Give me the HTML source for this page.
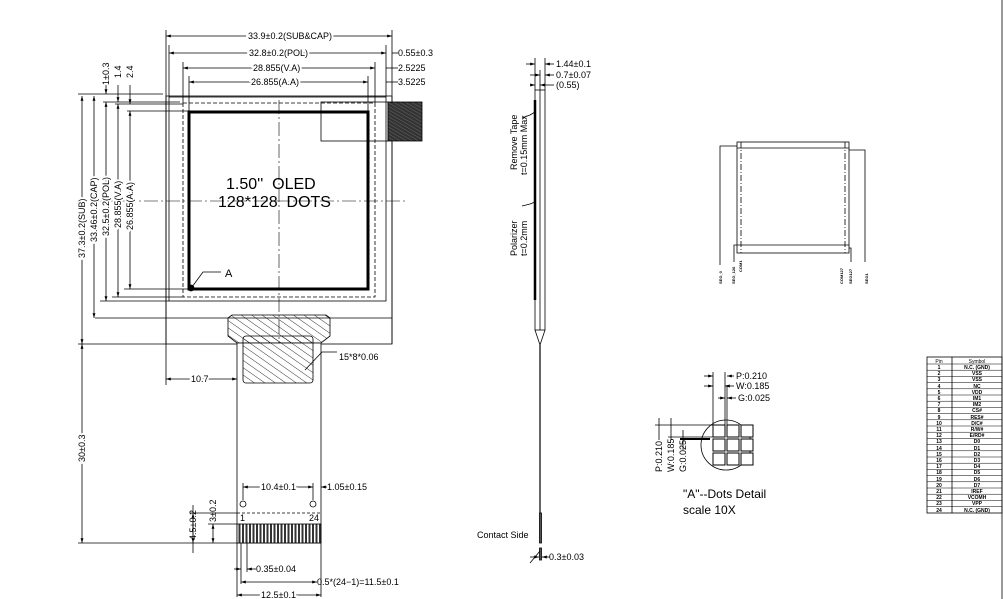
<!DOCTYPE html>
<html><head><meta charset="utf-8"><style>
html,body{margin:0;padding:0;background:#fff;}
svg{display:block;}
text{font-family:"Liberation Sans",sans-serif;fill:#000;}
</style></head><body>
<svg width="1003" height="599" viewBox="0 0 1003 599" xmlns="http://www.w3.org/2000/svg">
<defs>
<marker id="a" viewBox="0 0 10 10" refX="10" refY="5" markerWidth="6" markerHeight="6" orient="auto-start-reverse"><path d="M0,2 L10,5 L0,8 z" fill="#000"/></marker>
<pattern id="h" width="6" height="6" patternUnits="userSpaceOnUse" patternTransform="rotate(-55)"><line x1="0" y1="0" x2="0" y2="6" stroke="#000" stroke-width="0.8"/></pattern>
<pattern id="hd" width="3" height="3" patternUnits="userSpaceOnUse" patternTransform="rotate(-60)"><rect width="3" height="3" fill="#333"/><line x1="0" y1="0" x2="0" y2="3" stroke="#999" stroke-width="0.5"/></pattern>
<pattern id="pins" width="3.5" height="20" patternUnits="userSpaceOnUse" x="238"><rect width="3.5" height="20" fill="#fff"/><rect x="0.5" width="2" height="20" fill="#333"/></pattern>
</defs>
<g stroke="#000" fill="none" stroke-width="0.8">
<line x1="166" y1="30" x2="166" y2="385"/>
<line x1="392" y1="30" x2="392" y2="344"/>
<rect x="166" y="96" width="226" height="248"/>
<rect x="169" y="97" width="217" height="204"/>
<rect x="183" y="103" width="192" height="194" stroke-dasharray="4,2"/>
<rect x="189" y="112" width="179" height="177" stroke-width="3"/>
<rect x="321" y="102" width="67" height="39"/>
<rect x="388" y="102" width="34" height="39" fill="url(#hd)"/>
<line x1="95" y1="318" x2="392" y2="318"/>
<line x1="279" y1="100" x2="279" y2="395" stroke-dasharray="14,3,2,3" stroke-width="0.6"/>
<line x1="100" y1="201" x2="405" y2="201" stroke-dasharray="14,3,2,3" stroke-width="0.6"/>
<circle cx="191" cy="288" r="3" fill="#000"/>
<polyline points="192,287 203,272 221,272"/>
<line x1="166" y1="36" x2="392" y2="36" marker-start="url(#a)" marker-end="url(#a)"/>
<line x1="169" y1="53" x2="386" y2="53" marker-start="url(#a)" marker-end="url(#a)"/>
<line x1="169" y1="45" x2="169" y2="97"/><line x1="386" y1="45" x2="386" y2="97"/>
<line x1="392" y1="53" x2="398" y2="53"/>
<line x1="183" y1="68" x2="375" y2="68" marker-start="url(#a)" marker-end="url(#a)"/>
<line x1="183" y1="62" x2="183" y2="103"/><line x1="375" y1="62" x2="375" y2="103"/>
<line x1="386" y1="68" x2="398" y2="68"/>
<line x1="189" y1="82" x2="368" y2="82" marker-start="url(#a)" marker-end="url(#a)"/>
<line x1="189" y1="76" x2="189" y2="112"/><line x1="368" y1="76" x2="368" y2="112"/>
<line x1="386" y1="82" x2="398" y2="82"/>
<line x1="78" y1="94" x2="163" y2="94"/>
<line x1="103" y1="102" x2="180" y2="102"/>
<line x1="115" y1="104" x2="183" y2="104"/>
<line x1="127" y1="111" x2="189" y2="111"/>
<line x1="100" y1="301" x2="169" y2="301"/>
<line x1="112" y1="297" x2="183" y2="297"/>
<line x1="124" y1="289" x2="189" y2="289"/>
<line x1="78" y1="344" x2="166" y2="344"/>
<line x1="82" y1="96" x2="82" y2="344" marker-start="url(#a)" marker-end="url(#a)"/>
<line x1="94" y1="96" x2="94" y2="318" marker-start="url(#a)" marker-end="url(#a)"/>
<line x1="106" y1="102" x2="106" y2="301" marker-start="url(#a)" marker-end="url(#a)"/>
<line x1="118" y1="104" x2="118" y2="297" marker-start="url(#a)" marker-end="url(#a)"/>
<line x1="130" y1="111" x2="130" y2="289" marker-start="url(#a)" marker-end="url(#a)"/>
<line x1="106" y1="85" x2="106" y2="94" marker-end="url(#a)"/>
<line x1="118" y1="85" x2="118" y2="102" marker-end="url(#a)"/>
<line x1="130" y1="85" x2="130" y2="104" marker-end="url(#a)"/>
<path d="M228,318 L232,315 L326,315 L330,318 L330,336 L321,343 L237,343 L228,336 Z" fill="url(#h)"/>
<rect x="237" y="343" width="84" height="200" fill="#fff"/>
<rect x="243" y="336" width="70" height="47" rx="3" fill="url(#h)"/>
<polyline points="305,370 322,352 337,352"/>
<line x1="166" y1="379" x2="237" y2="379" marker-start="url(#a)" marker-end="url(#a)"/>
<line x1="82" y1="344" x2="82" y2="543" marker-start="url(#a)" marker-end="url(#a)"/>
<line x1="78" y1="543" x2="237" y2="543"/>
<line x1="243" y1="487" x2="313" y2="487" marker-start="url(#a)" marker-end="url(#a)"/>
<line x1="243" y1="483" x2="243" y2="500"/><line x1="313" y1="483" x2="313" y2="500"/>
<line x1="327" y1="487" x2="321" y2="487" marker-end="url(#a)"/>
<circle cx="243" cy="504" r="3"/><circle cx="313" cy="504" r="3"/>
<line x1="237" y1="513" x2="321" y2="513" stroke-dasharray="3,2"/>
<rect x="237" y="524" width="84" height="19" fill="url(#pins)"/>
<line x1="190" y1="513" x2="237" y2="513"/>
<line x1="208" y1="524" x2="237" y2="524"/>
<line x1="193" y1="505" x2="193" y2="553" /><line x1="193" y1="513" x2="193" y2="543" marker-start="url(#a)" marker-end="url(#a)"/>
<line x1="213" y1="524" x2="213" y2="543" marker-start="url(#a)" marker-end="url(#a)"/>
<line x1="237" y1="543" x2="237" y2="597"/><line x1="321" y1="543" x2="321" y2="597"/>
<line x1="241" y1="543" x2="241" y2="584"/><line x1="247" y1="543" x2="247" y2="572"/>
<line x1="234" y1="569" x2="241" y2="569" marker-end="url(#a)"/><line x1="256" y1="569" x2="247" y2="569" marker-end="url(#a)"/>
<line x1="241" y1="582" x2="317" y2="582" marker-start="url(#a)" marker-end="url(#a)"/>
<line x1="237" y1="595" x2="321" y2="595" marker-start="url(#a)" marker-end="url(#a)"/>
<rect x="535" y="90" width="10" height="240"/>
<line x1="540" y1="90" x2="540" y2="330"/>
<line x1="535" y1="100" x2="535" y2="300" stroke-width="2.5"/>
<path d="M535,330 L540,345 L545,330"/>
<line x1="540" y1="345" x2="540" y2="513" stroke-width="1.2"/>
<rect x="539.5" y="513" width="2" height="30" fill="#555"/>
<rect x="539.5" y="548" width="2" height="12" fill="#555"/>
<line x1="535" y1="58" x2="535" y2="90"/><line x1="545" y1="58" x2="545" y2="90"/><line x1="540" y1="70" x2="540" y2="90"/>
<line x1="526" y1="64" x2="535" y2="64" marker-end="url(#a)"/><line x1="554" y1="64" x2="545" y2="64" marker-end="url(#a)"/>
<line x1="530" y1="75" x2="540" y2="75" marker-end="url(#a)"/><line x1="554" y1="75" x2="545" y2="75" marker-end="url(#a)"/>
<line x1="530" y1="85" x2="535" y2="85" marker-end="url(#a)"/><line x1="554" y1="85" x2="540" y2="85" marker-end="url(#a)"/>
<polyline points="522,118 530,115 535,112"/>
<polyline points="522,206 530,204 535,202"/>
<polyline points="530,563 540,551"/>
<line x1="530" y1="557" x2="539" y2="557" marker-end="url(#a)"/><line x1="550" y1="557" x2="542" y2="557" marker-end="url(#a)"/>
<circle cx="726" cy="445" r="25"/>
<g fill="#fff" stroke-width="1">
<rect x="713" y="425" width="12" height="12"/><rect x="727" y="425" width="12" height="12"/><rect x="741" y="425" width="12" height="12"/>
<rect x="713" y="439" width="12" height="12"/><rect x="727" y="439" width="12" height="12"/><rect x="741" y="439" width="12" height="12"/>
<rect x="713" y="453" width="12" height="12"/><rect x="727" y="453" width="12" height="12"/><rect x="741" y="453" width="12" height="12"/>
</g>
<line x1="713" y1="372" x2="713" y2="425"/><line x1="725" y1="372" x2="725" y2="425"/><line x1="727" y1="385" x2="727" y2="425"/>
<line x1="704" y1="376" x2="713" y2="376" marker-end="url(#a)"/><line x1="734" y1="376" x2="727" y2="376" marker-end="url(#a)"/>
<line x1="704" y1="386" x2="713" y2="386" marker-end="url(#a)"/><line x1="734" y1="386" x2="725" y2="386" marker-end="url(#a)"/>
<line x1="718" y1="398" x2="725" y2="398" marker-end="url(#a)"/><line x1="736" y1="398" x2="727" y2="398" marker-end="url(#a)"/>
<line x1="655" y1="425" x2="713" y2="425"/><line x1="668" y1="437" x2="713" y2="437"/><line x1="680" y1="439" x2="710" y2="439" stroke-width="2"/>
<line x1="659" y1="418" x2="659" y2="440"/><line x1="671" y1="418" x2="671" y2="440"/>
<line x1="683" y1="430" x2="683" y2="450"/>
<rect x="737" y="142" width="112" height="111"/>
<line x1="737" y1="148" x2="849" y2="148"/>
<line x1="737" y1="245" x2="849" y2="245"/>
<line x1="741" y1="142" x2="741" y2="253" stroke-dasharray="6,2,1,2"/>
<line x1="845" y1="142" x2="845" y2="253" stroke-dasharray="6,2,1,2"/>
<polyline points="720,265 720,146 737,146"/>
<polyline points="865,262 865,150 849,150"/>
<polyline points="734,262 734,245 737,245"/>
<polyline points="851,262 851,248 849,248"/>
<line x1="1002" y1="0" x2="1002" y2="599"/>
<rect x="927" y="357" width="75" height="156"/>
<line x1="952" y1="357" x2="952" y2="513"/>
</g>
<g stroke="#000" stroke-width="0.5">
<line x1="927" y1="364" x2="1002" y2="364"/>
<line x1="927" y1="370.2" x2="1002" y2="370.2"/><line x1="927" y1="376.4" x2="1002" y2="376.4"/><line x1="927" y1="382.6" x2="1002" y2="382.6"/><line x1="927" y1="388.8" x2="1002" y2="388.8"/><line x1="927" y1="395" x2="1002" y2="395"/><line x1="927" y1="401.2" x2="1002" y2="401.2"/><line x1="927" y1="407.4" x2="1002" y2="407.4"/><line x1="927" y1="413.6" x2="1002" y2="413.6"/><line x1="927" y1="419.8" x2="1002" y2="419.8"/><line x1="927" y1="426" x2="1002" y2="426"/><line x1="927" y1="432.2" x2="1002" y2="432.2"/><line x1="927" y1="438.4" x2="1002" y2="438.4"/><line x1="927" y1="444.6" x2="1002" y2="444.6"/><line x1="927" y1="450.8" x2="1002" y2="450.8"/><line x1="927" y1="457" x2="1002" y2="457"/><line x1="927" y1="463.2" x2="1002" y2="463.2"/><line x1="927" y1="469.4" x2="1002" y2="469.4"/><line x1="927" y1="475.6" x2="1002" y2="475.6"/><line x1="927" y1="481.8" x2="1002" y2="481.8"/><line x1="927" y1="488" x2="1002" y2="488"/><line x1="927" y1="494.2" x2="1002" y2="494.2"/><line x1="927" y1="500.4" x2="1002" y2="500.4"/><line x1="927" y1="506.6" x2="1002" y2="506.6"/>
</g>
<g font-size="5" font-weight="bold" text-anchor="middle">
<text x="939" y="363" font-weight="normal">Pin</text><text x="977" y="363" font-weight="normal">Symbol</text>
<text x="939" y="369">1</text><text x="977" y="369">N.C. (GND)</text>
<text x="939" y="375">2</text><text x="977" y="375">VSS</text>
<text x="939" y="381">3</text><text x="977" y="381">VSS</text>
<text x="939" y="388">4</text><text x="977" y="388">NC</text>
<text x="939" y="394">5</text><text x="977" y="394">VDD</text>
<text x="939" y="400">6</text><text x="977" y="400">IM1</text>
<text x="939" y="406">7</text><text x="977" y="406">IM2</text>
<text x="939" y="412">8</text><text x="977" y="412">CS#</text>
<text x="939" y="419">9</text><text x="977" y="419">RES#</text>
<text x="939" y="425">10</text><text x="977" y="425">D/C#</text>
<text x="939" y="431">11</text><text x="977" y="431">R/W#</text>
<text x="939" y="437">12</text><text x="977" y="437">E/RD#</text>
<text x="939" y="443">13</text><text x="977" y="443">D0</text>
<text x="939" y="450">14</text><text x="977" y="450">D1</text>
<text x="939" y="456">15</text><text x="977" y="456">D2</text>
<text x="939" y="462">16</text><text x="977" y="462">D3</text>
<text x="939" y="468">17</text><text x="977" y="468">D4</text>
<text x="939" y="474">18</text><text x="977" y="474">D5</text>
<text x="939" y="481">19</text><text x="977" y="481">D6</text>
<text x="939" y="487">20</text><text x="977" y="487">D7</text>
<text x="939" y="493">21</text><text x="977" y="493">IREF</text>
<text x="939" y="499">22</text><text x="977" y="499">VCOMH</text>
<text x="939" y="505">23</text><text x="977" y="505">VPP</text>
<text x="939" y="512">24</text><text x="977" y="512">N.C. (GND)</text>
</g>
<g font-size="9">
<text x="248" y="39" style="paint-order:stroke" stroke="#fff" stroke-width="4">33.9±0.2(SUB&amp;CAP)</text>
<text x="249" y="56" style="paint-order:stroke" stroke="#fff" stroke-width="4">32.8±0.2(POL)</text>
<text x="398" y="56">0.55±0.3</text>
<text x="253" y="71" style="paint-order:stroke" stroke="#fff" stroke-width="4">28.855(V.A)</text>
<text x="398" y="71">2.5225</text>
<text x="251" y="85" style="paint-order:stroke" stroke="#fff" stroke-width="4">26.855(A.A)</text>
<text x="398" y="85">3.5225</text>
<text transform="translate(85,258) rotate(-90)" style="paint-order:stroke" stroke="#fff" stroke-width="4">37.3±0.2(SUB)</text>
<text transform="translate(97,242) rotate(-90)" style="paint-order:stroke" stroke="#fff" stroke-width="4">33.46±0.2(CAP)</text>
<text transform="translate(109,236) rotate(-90)" style="paint-order:stroke" stroke="#fff" stroke-width="4">32.5±0.2(POL)</text>
<text transform="translate(121,228) rotate(-90)" style="paint-order:stroke" stroke="#fff" stroke-width="4">28.855(V.A)</text>
<text transform="translate(133,230) rotate(-90)" style="paint-order:stroke" stroke="#fff" stroke-width="4">26.855(A.A)</text>
<text transform="translate(109,85) rotate(-90)">1±0.3</text>
<text transform="translate(121,78) rotate(-90)">1.4</text>
<text transform="translate(133,78) rotate(-90)">2.4</text>
<text x="225" y="277" font-size="11">A</text>
<text x="339" y="360">15*8*0.06</text>
<text x="191" y="382" style="paint-order:stroke" stroke="#fff" stroke-width="4">10.7</text>
<text transform="translate(85,462) rotate(-90)" style="paint-order:stroke" stroke="#fff" stroke-width="4">30±0.3</text>
<text x="261" y="490" style="paint-order:stroke" stroke="#fff" stroke-width="4">10.4±0.1</text>
<text x="327" y="490">1.05±0.15</text>
<text x="240" y="521">1</text><text x="309" y="521">24</text>
<text transform="translate(196,540) rotate(-90)">4.5±0.2</text>
<text transform="translate(216,522) rotate(-90)">3±0.2</text>
<text x="256" y="572">0.35±0.04</text>
<text x="317" y="585">0.5*(24−1)=11.5±0.1</text>
<text x="261" y="598" style="paint-order:stroke" stroke="#fff" stroke-width="4">12.5±0.1</text>
<text x="556" y="67">1.44±0.1</text>
<text x="556" y="78">0.7±0.07</text>
<text x="556" y="88">(0.55)</text>
<text transform="translate(517,170) rotate(-90)">Remove Tape</text>
<text transform="translate(527,175) rotate(-90)">t=0.15mm Max</text>
<text transform="translate(517,256) rotate(-90)">Polarizer</text>
<text transform="translate(527,256) rotate(-90)">t=0.2mm</text>
<text x="477" y="538">Contact Side</text>
<text x="549" y="560">0.3±0.03</text>
<text x="736" y="379">P:0.210</text>
<text x="736" y="389">W:0.185</text>
<text x="738" y="401">G:0.025</text>
<text transform="translate(662,472) rotate(-90)">P:0.210</text>
<text transform="translate(674,472) rotate(-90)">W:0.185</text>
<text transform="translate(686,472) rotate(-90)">G:0.025</text>
</g>
<text x="683" y="498" font-size="12">"A"--Dots Detail</text>
<text x="683" y="514" font-size="12">scale 10X</text>
<text x="226" y="189" font-size="16" xml:space="preserve">1.50''  OLED</text>
<text x="218" y="207" font-size="16" xml:space="preserve">128*128  DOTS</text>
<g font-size="4" font-weight="bold">
<text transform="translate(722,284) rotate(-90)">SEG_0</text>
<text transform="translate(735,284) rotate(-90)">SEG_126</text>
<text transform="translate(742,272) rotate(-90)">COM1</text>
<text transform="translate(843,284) rotate(-90)">COM127</text>
<text transform="translate(852,284) rotate(-90)">SEG127</text>
<text transform="translate(868,284) rotate(-90)">SEG1</text>
</g>
</svg>
</body></html>
